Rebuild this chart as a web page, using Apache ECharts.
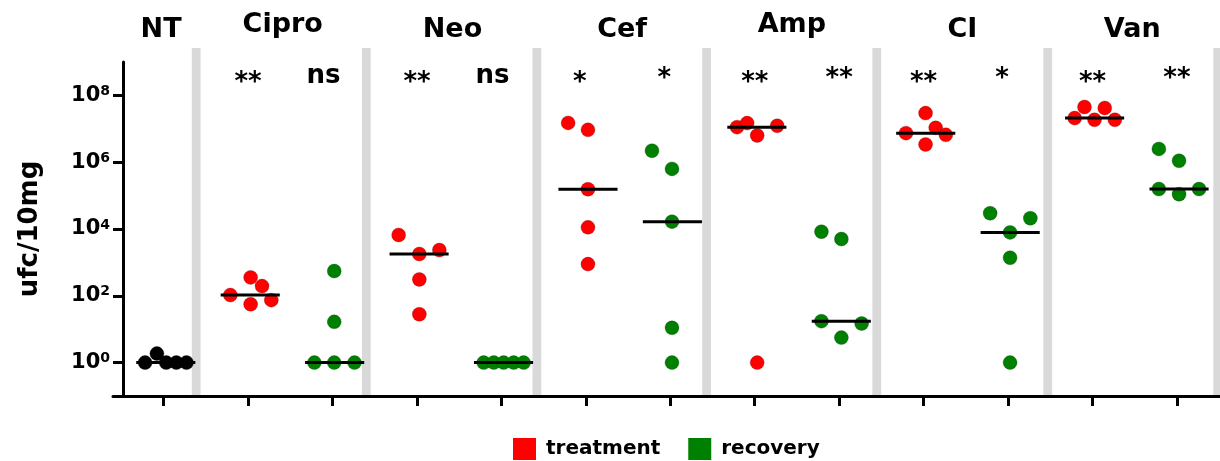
<!DOCTYPE html>
<html>
<head>
<meta charset="utf-8">
<script src="https://cdn.jsdelivr.net/npm/echarts@6/dist/echarts.min.js"></script>
<style>
html, body { margin: 0; padding: 0; background: #fff; }
#main { width: 1220px; height: 461px; }
</style>
</head>
<body>
<div id="main"></div>
<script>
// group titles across the top
var groups = ['NT', 'Cipro', 'Neo', 'Cef', 'Amp', 'CI', 'Van'];
// one column per x tick: NT, then treatment / recovery for each antibiotic
var sigLabels = ['', '**', 'ns', '**', 'ns', '*', '*', '**', '**', '**', '*', '**', '**'];
var yTicks = [1, 1e2, 1e4, 1e6, 1e8];

// ufc/10mg, one value per mouse
var ntValues    = [1, 1.86, 1, 1, 1];
var ciproTreat  = [105, 355, 195, 56, 74];
var ciproRecov  = [1, 1, 1, 550, 16.6];
var neoTreat    = [6600, 1780, 2340, 309, 28];
var neoRecov    = [1, 1, 1, 1, 1];
var cefTreat    = [1.5e7, 9.3e6, 1.55e5, 1.12e4, 890];
var cefRecov    = [2.2e6, 6.3e5, 1.66e4, 11, 1];
var ampTreat    = [1.12e7, 1.48e7, 6.3e6, 1.23e7, 1];
var ampRecov    = [8300, 5000, 17.4, 14.8, 5.6];
var ciTreat     = [2.95e7, 1.07e7, 7.4e6, 6.6e6, 3.4e6];
var ciRecov     = [2.95e4, 2.1e4, 7900, 1380, 1];
var vanTreat    = [4.5e7, 4.2e7, 2.1e7, 1.86e7, 1.86e7];
var vanRecov    = [2.5e6, 1.1e6, 1.58e5, 1.58e5, 1.1e5];

var columns = [ntValues, ciproTreat, ciproRecov, neoTreat, neoRecov, cefTreat, cefRecov,
               ampTreat, ampRecov, ciTreat, ciRecov, vanTreat, vanRecov];

// horizontal jitter of the dots inside a column (layout only)
var jitter = [
    [-0.22, -0.08, 0.03, 0.15, 0.27],
    [-0.21, 0.03, 0.165, 0.03, 0.275],
    [-0.215, 0.02, 0.26, 0.02, 0.02],
    [-0.217, 0.028, 0.265, 0.028, 0.028],
    [-0.21, -0.09, 0.026, 0.145, 0.263],
    [-0.21, 0.025, 0.025, 0.025, 0.025],
    [-0.217, 0.02, 0.02, 0.02, 0.02],
    [-0.21, -0.09, 0.029, 0.266, 0.029],
    [-0.21, 0.026, -0.21, 0.266, 0.026],
    [0.023, 0.143, -0.209, 0.263, 0.023],
    [-0.212, 0.264, 0.024, 0.024, 0.024],
    [-0.095, 0.145, -0.211, 0.024, 0.265],
    [-0.214, 0.025, -0.214, 0.262, 0.025]
];
var titleX = [-0.03, 1.41, 3.42, 5.43, 7.44, 9.46, 11.47];
var separatorX = [0.385, 2.40, 4.42, 6.43, 8.445, 10.47, 12.483];

var FONT = 'DejaVu Sans';

function median(arr) {
    var s = arr.slice().sort(function (a, b) { return a - b; });
    return s[Math.floor(s.length / 2)];
}

function dots(colIdx) {
    var out = [];
    colIdx.forEach(function (c) {
        columns[c].forEach(function (v, k) {
            out.push([c + jitter[c][k], v]);
        });
    });
    return out;
}

var treatCols = [1, 3, 5, 7, 9, 11];
var recovCols = [2, 4, 6, 8, 10, 12];

var medianData = [];
columns.forEach(function (col, c) {
    var m = median(col);
    medianData.push([c + 0.025 - 0.35, m], [c + 0.025 + 0.35, m], [c, '-']);
});

var chart = echarts.init(document.getElementById('main'));

var dotStyle = function (color, edge) {
    return { color: color, borderColor: edge, borderWidth: 0.6, opacity: 1 };
};

var option = {
    animation: false,
    backgroundColor: '#fff',
    grid: [
        { left: 113, right: 0, top: 62, bottom: 65 },
        { left: 113, right: 0, top: 48, bottom: 65 }
    ],
    legend: {
        data: ['treatment', 'recovery'],
        left: 513, top: 438, padding: 0,
        icon: 'rect',
        itemWidth: 23, itemHeight: 22, itemGap: 28,
        itemStyle: { borderWidth: 0 },
        textStyle: { fontFamily: FONT, fontWeight: 'bold', fontSize: 20, color: '#000', padding: [0, 0, 0, 5] }
    },
    xAxis: [
        {
            type: 'value', gridIndex: 0, min: -0.6, max: 12.51,
            axisLine: { onZero: false, lineStyle: { color: '#000', width: 3 } },
            axisTick: { show: true, length: 10, customValues: [0, 1, 2, 3, 4, 5, 6, 7, 8, 9, 10, 11, 12],
                        lineStyle: { color: '#000', width: 3 } },
            axisLabel: { show: false },
            splitLine: { show: false }
        },
        {
            type: 'value', gridIndex: 1, min: -0.6, max: 12.51, show: false
        }
    ],
    yAxis: [
        {
            type: 'log', logBase: 10, gridIndex: 0, min: 0.1, max: 1e9, offset: -10,
            name: 'ufc/10mg', nameLocation: 'middle', nameGap: 80,
            nameTextStyle: { fontFamily: FONT, fontWeight: 'bold', fontSize: 26, color: '#000' },
            axisLine: { show: true, onZero: false, lineStyle: { color: '#000', width: 3 } },
            axisTick: { show: true, length: 10, customValues: yTicks, lineStyle: { color: '#000', width: 3 } },
            minorTick: { show: false },
            splitLine: { show: false },
            axisLabel: {
                customValues: yTicks,
                margin: 13,
                formatter: function (v) {
                    return '{b|10}{s|' + Math.round(Math.log10(v)) + '}';
                },
                rich: {
                    b: { fontFamily: FONT, fontWeight: 'bold', fontSize: 21, color: '#000', lineHeight: 22 },
                    s: { fontFamily: FONT, fontWeight: 'bold', fontSize: 14, color: '#000', lineHeight: 12, verticalAlign: 'top' }
                }
            }
        },
        { type: 'value', gridIndex: 1, min: 0, max: 1, show: false }
    ],
    series: [
        {
            // grey separators between antibiotic groups
            type: 'custom', xAxisIndex: 1, yAxisIndex: 1, silent: true, z: 0,
            data: separatorX,
            renderItem: function (params, api) {
                var c = api.value(0);
                var p0 = api.coord([c - 0.052, 1]);
                var p1 = api.coord([c + 0.052, 0]);
                return { type: 'rect', shape: { x: p0[0], y: p0[1], width: p1[0] - p0[0], height: p1[1] - p0[1] },
                         style: { fill: '#d9d9d9' } };
            }
        },
        {
            name: 'NT', type: 'scatter', symbolSize: 14, z: 2,
            itemStyle: dotStyle('#000000', 'rgba(0,0,0,0.6)'),
            data: dots([0])
        },
        {
            name: 'treatment', type: 'scatter', symbolSize: 14, z: 2,
            itemStyle: dotStyle('#ff0000', 'rgba(90,0,0,0.45)'),
            data: dots(treatCols)
        },
        {
            name: 'recovery', type: 'scatter', symbolSize: 14, z: 2,
            itemStyle: dotStyle('#008000', 'rgba(0,40,0,0.45)'),
            data: dots(recovCols)
        },
        {
            name: 'median', type: 'line', z: 3, symbol: 'none', connectNulls: false,
            lineStyle: { color: '#000', width: 3 },
            data: medianData
        }
    ]
};

chart.setOption(option);

// group titles and significance marks, placed from the x axis
var texts = [];
groups.forEach(function (g, i) {
    var raised = (g === 'Cipro' || g === 'Amp');
    texts.push({
        type: 'text', x: chart.convertToPixel({ xAxisIndex: 0 }, titleX[i]), y: raised ? 25 : 30,
        style: { text: g, fontFamily: FONT, fontWeight: 'bold', fontSize: 27, fill: '#000',
                 align: 'center', verticalAlign: 'middle' }
    });
});
sigLabels.forEach(function (t, i) {
    if (!t) return;
    var dx = t === 'ns' ? -9 : (t === '*' ? -6 : 0);
    var y = t === 'ns' ? 76 : (i % 2 === 0 ? 79.5 : 83);
    texts.push({
        type: 'text', x: chart.convertToPixel({ xAxisIndex: 0 }, i) + dx, y: y,
        style: { text: t, fontFamily: FONT, fontWeight: 'bold', fontSize: 26, fill: '#000',
                 align: 'center', verticalAlign: 'middle' }
    });
});
chart.setOption({ graphic: texts });
</script>
</body>
</html>
